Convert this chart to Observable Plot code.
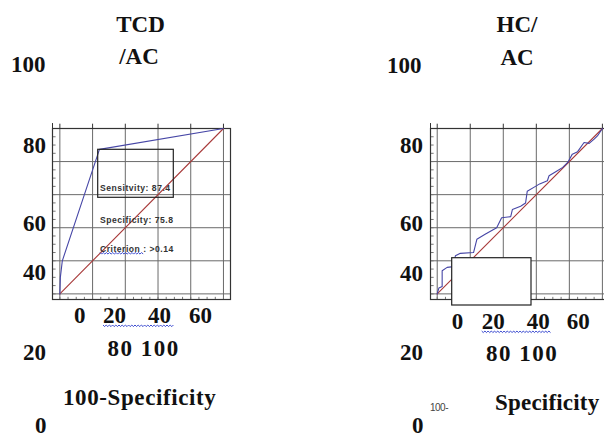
<!DOCTYPE html>
<html><head><meta charset="utf-8">
<script src="https://cdn.jsdelivr.net/npm/d3@7"></script>
<script src="https://cdn.jsdelivr.net/npm/@observablehq/plot@0.6"></script>
<style>
html,body{margin:0;padding:0;background:#fff;overflow:hidden}
#wrap{position:relative;width:604px;height:439px;overflow:hidden;background:#fff}
#wrap svg{position:absolute;top:0}
.ser{font-family:"Liberation Serif","DejaVu Serif",serif;font-weight:bold}
.san{font-family:"Liberation Sans","DejaVu Sans",sans-serif}
</style></head>
<body><div id="wrap"></div>
<script>
// ---------- data ----------
const tcdFpr = [0, 0.3, 1.5, 24.2, 100];
const tcdTpr = [0, 10, 20, 87.4, 100];
const hcFpr = [0, 1, 3, 3, 6, 10, 11, 14, 22, 24, 29, 36, 39, 44.5, 45.5, 50.5, 53.5, 54.5, 59.5, 62, 66.7, 67.7, 72, 76, 79, 81.8, 85, 88.9, 92, 95, 97, 100];
const hcTpr = [0, 3.5, 4.5, 14, 16, 16.5, 23, 24.5, 25, 33, 36, 40, 46, 46.7, 51, 53, 55, 62, 65, 66.5, 68.4, 71.4, 74, 76.5, 79.5, 84.5, 86, 91.5, 91, 93.6, 95.5, 100];
const refLine = [0, 100];
const majorTicks = [0, 20, 40, 60, 80, 100];
const minorTicks = d3.range(0, 101, 5);
const yTickLabels = ["100", "80", "60", "40", "20", "0"];
const xTickLabels = ["0", "20", "40", "60"];
const xTickLabels2 = "80 100";
const titleLeft = ["TCD", "/AC"];
const titleRight = ["HC/", "AC"];
const xTitleLeft = "100-Specificity";
const xTitleRight = ["100-", "Specificity"];
const boxText = ["Sensitvity: 87.4", "Specificity: 75.8", "Criterion : >0.14"];

// ---------- layout ----------
const wrap = document.getElementById("wrap");
const BLUE = "#4646a6", RED = "#a83a3a", GRID = "#6a6a6a", FRAME = "#333";

function panel(fpr, tpr, o) {
  const pts = fpr.map((x, i) => ({x, y: tpr[i]}));
  const ref = refLine.map(v => ({x: v, y: v}));
  const xd = o.xDomain, yd = [-3.4, 100];
  const svg = Plot.plot({
    width: o.width, height: 439,
    marginLeft: o.ml, marginRight: o.mr, marginTop: 128, marginBottom: 140,
    x: {domain: xd, axis: null}, y: {domain: yd, axis: null},
    style: {background: "transparent", overflow: "visible"},
    marks: [
      Plot.ruleX(majorTicks, {stroke: GRID, strokeWidth: 1}),
      Plot.ruleY(majorTicks, {stroke: GRID, strokeWidth: 1}),
      Plot.ruleX(majorTicks, {y1: 100, y2: 102.6, stroke: FRAME}),
      Plot.ruleX([xd[0]], {y1: 100, y2: 103, stroke: FRAME}),
      Plot.ruleY(minorTicks, {x1: xd[0], x2: xd[0] + 2.2, stroke: "#777"}),
      Plot.ruleX(minorTicks, {y1: yd[0], y2: yd[0] + 1.3, stroke: "#777"}),
      Plot.frame({stroke: FRAME, strokeWidth: 1.2}),
      Plot.line(ref, {x: "x", y: "y", stroke: RED, strokeWidth: 1.1}),
      Plot.line(pts, {x: "x", y: "y", stroke: BLUE, strokeWidth: 1.1})
    ]
  });
  svg.style.left = o.left + "px";
  wrap.appendChild(svg);
}
panel(tcdFpr, tcdTpr, {left: 0, width: 302, ml: 52, mr: 72, xDomain: [-4.5, 104.3]});
panel(hcFpr, hcTpr, {left: 300, width: 310, ml: 130, mr: 1, xDomain: [-4.06, 104.3]});

// ---------- annotations overlay ----------
const ov = d3.select(wrap).append("svg").attr("width", 604).attr("height", 439).style("left", "0px");
function T(t, x, y, opt = {}) {
  ov.append("text").attr("x", x).attr("y", y)
    .attr("class", opt.sans ? "san" : "ser")
    .attr("text-anchor", opt.anchor || "start")
    .style("font-size", (opt.size || 23) + "px")
    .style("font-weight", opt.weight || "bold")
    .style("letter-spacing", (opt.ls || 0) + "px")
    .attr("fill", opt.fill || "#111")
    .text(t);
}
function wavy(x1, x2, y) {
  let d = `M${x1},${y}`;
  for (let x = x1, k = 0; x < x2; x += 1.6, k++) d += ` L${x + 1.6},${y + (k % 2 ? 0 : 1.6)}`;
  ov.append("path").attr("d", d).attr("fill", "none").attr("stroke", "#3a4ad0").attr("stroke-width", 1);
}
// left panel
T(titleLeft[0], 140.5, 32, {anchor: "middle"});
T(titleLeft[1], 139, 64, {anchor: "middle"});
const yLabL = [[11, 72], [23, 153], [23, 231], [23, 280], [23, 360], [35, 433]];
yTickLabels.forEach((t, i) => T(t, yLabL[i][0], yLabL[i][1]));
const xLabL = [74, 103, 148, 189];
xTickLabels.forEach((t, i) => T(t, xLabL[i], 323));
T(xTickLabels2, 107.5, 356, {ls: 1.5});
T(xTitleLeft, 63, 405, {ls: 0.6});
wavy(103, 173, 325);
ov.append("rect").attr("x", 97.7).attr("y", 149.3).attr("width", 75.6).attr("height", 48)
  .attr("fill", "none").attr("stroke", "#222").attr("stroke-width", 1.2);
T(boxText[0], 100, 191, {sans: true, size: 8.6, ls: 0.5, fill: "#333"});
T(boxText[1], 100, 223, {sans: true, size: 8.6, ls: 0.5, fill: "#333"});
T(boxText[2], 100, 252, {sans: true, size: 8.6, ls: 0.5, fill: "#333"});
wavy(100, 143, 252.5);
// right panel
T(titleRight[0], 517, 32, {anchor: "middle"});
T(titleRight[1], 517, 65, {anchor: "middle"});
const yLabR = [[387, 73], [400, 153], [400, 231], [400, 281], [400, 360], [412, 433]];
yTickLabels.forEach((t, i) => T(t, yLabR[i][0], yLabR[i][1]));
const xLabR = [451.7, 481.7, 526.7, 566.7];
xTickLabels.forEach((t, i) => T(t, xLabR[i], 329));
T(xTickLabels2, 486, 361, {ls: 1.5});
wavy(481.7, 550, 331);
ov.append("rect").attr("x", 451.7).attr("y", 257.7).attr("width", 79.3).attr("height", 47.3)
  .attr("fill", "#fff").attr("stroke", "#222").attr("stroke-width", 1.2);
T(xTitleRight[0], 430, 411, {sans: true, weight: "normal", size: 10, fill: "#444", ls: -0.5});
T(xTitleRight[1], 495, 410, {ls: 0.2});
</script></body></html>
